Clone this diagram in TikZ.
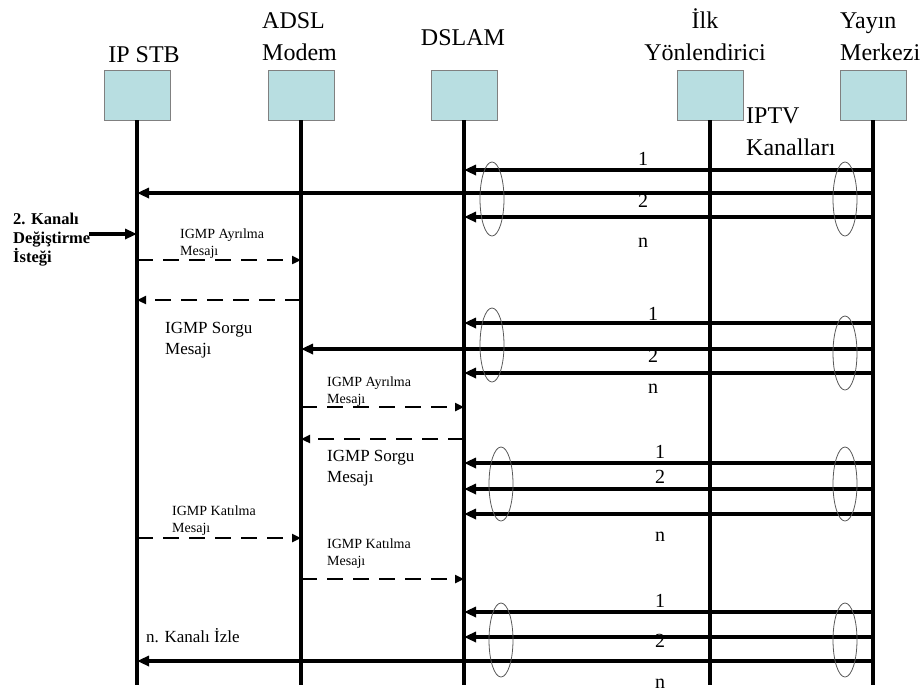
\documentclass[tikz,border=0pt]{standalone}
\usepackage{fontspec}
\setmainfont{Liberation Serif}
\usetikzlibrary{arrows.meta}
\definecolor{boxfill}{RGB}{184,222,225}

\tikzset{
  lifebox/.style={draw=gray, line width=0.8pt, fill=boxfill, minimum width=66pt, minimum height=50pt, inner sep=0pt},
  lifeline/.style={line width=3.2pt},
  chan/.style={line width=3.2pt, -{Triangle[length=12pt,width=10pt]}},
  msg/.style={line width=2.6pt, dash pattern=on 16pt off 10pt, -{Triangle[length=9pt,width=8pt]}},
  bundle/.style={draw=black!65, line width=0.8pt},
  head/.style={font=\fontsize{24}{32}\selectfont, inner sep=0pt},
  chno/.style={font=\fontsize{20}{24}\selectfont, inner sep=0pt, anchor=base},
  tiny/.style={font=\fontsize{14}{16.5}\selectfont, inner sep=0pt, anchor=base west, align=left},
  note/.style={font=\fontsize{17}{21}\selectfont, inner sep=0pt, anchor=base west, align=left},
}

\begin{document}
\begin{tikzpicture}[x=1pt, y=-1pt]
  \useasboundingbox (0,0) rectangle (922,694);

  % devices
  \node[lifebox] (stb) at (137,95) {};
  \node[lifebox] (modem) at (301,95) {};
  \node[lifebox] (dslam) at (464,95) {};
  \node[lifebox] (router) at (710,95) {};
  \node[lifebox] (hq) at (873,95) {};

  % names (base = last line)
  \node[head, anchor=base] (stb-name) at (144,62) {IP STB};
  \node[head, anchor=base west, align=left] (modem-name) at (262,60) {ADSL\\Modem};
  \node[head, anchor=base] (dslam-name) at (463,45) {DSLAM};
  \node[head, anchor=base, align=center] (router-name) at (705,60) {İlk\\Yönlendirici};
  \node[head, anchor=base west, align=left] (hq-name) at (840,60) {Yayın\\Merkezi};
  \node[head, anchor=base west, align=left] (iptv) at (746,155) {IPTV\\Kanalları};

  % lifelines
  \foreach \n in {stb,modem,dslam,router,hq} {
    \coordinate (\n-end) at (\n |- 0,685);
    \draw[lifeline] (\n.south) -- (\n-end);
  }

  % channel change request
  \node[font=\bfseries\fontsize{16.5}{19}\selectfont, inner sep=0pt, anchor=base west, align=left] (req) at (13,262) {2. Kanalı\\Değiştirme\\İsteği};
  \coordinate (req-start) at (89,234);
  \draw[chan] (req-start) -- (stb |- 0,234);

  % group 1
  \draw[chan] (hq |- 0,170) -- (dslam |- 0,170);
  \draw[chan] (hq |- 0,193) -- (stb |- 0,193);
  \draw[chan] (hq |- 0,217) -- (dslam |- 0,217);
  \draw[bundle] (492,199) ellipse [x radius=12pt, y radius=37pt];
  \draw[bundle] (845,199) ellipse [x radius=12pt, y radius=37pt];
  \node[chno] (g1-a) at (643,165) {1};
  \node[chno] (g1-b) at (643,207) {2};
  \node[chno] (g1-n) at (643,247) {n};

  % leave / query, modem side
  \node[tiny] (leave1) at (180,255) {IGMP Ayrılma\\Mesajı};
  \draw[msg] (stb |- 0,260) -- (modem |- 0,260);
  \draw[msg] (modem |- 0,300) -- (stb |- 0,300);
  \node[note] (query1) at (165,354) {IGMP Sorgu\\Mesajı};

  % group 2
  \draw[chan] (hq |- 0,323) -- (dslam |- 0,323);
  \draw[chan] (hq |- 0,349) -- (modem |- 0,349);
  \draw[chan] (hq |- 0,373) -- (dslam |- 0,373);
  \draw[bundle] (492,345) ellipse [x radius=12pt, y radius=37pt];
  \draw[bundle] (845,353) ellipse [x radius=12pt, y radius=37pt];
  \node[chno] (g2-a) at (653,320) {1};
  \node[chno] (g2-b) at (653,362) {2};
  \node[chno] (g2-n) at (653,393) {n};

  % leave / query, dslam side
  \node[tiny] (leave2) at (327,403) {IGMP Ayrılma\\Mesajı};
  \draw[msg] (modem |- 0,407) -- (dslam |- 0,407);
  \draw[msg] (dslam |- 0,439) -- (modem |- 0,439);
  \node[note] (query2) at (327,482) {IGMP Sorgu\\Mesajı};

  % group 3
  \draw[chan] (hq |- 0,463) -- (dslam |- 0,463);
  \draw[chan] (hq |- 0,489) -- (dslam |- 0,489);
  \draw[chan] (hq |- 0,514) -- (dslam |- 0,514);
  \draw[bundle] (501,484) ellipse [x radius=12pt, y radius=37pt];
  \draw[bundle] (845,484) ellipse [x radius=12pt, y radius=37pt];
  \node[chno] (g3-a) at (660,458) {1};
  \node[chno] (g3-b) at (660,483) {2};
  \node[chno] (g3-n) at (660,541) {n};

  % join
  \node[tiny] (join1) at (172,532) {IGMP Katılma\\Mesajı};
  \draw[msg] (stb |- 0,538) -- (modem |- 0,538);
  \node[tiny] (join2) at (327,565) {IGMP Katılma\\Mesajı};
  \draw[msg] (modem |- 0,579) -- (dslam |- 0,579);

  % group 4
  \draw[chan] (hq |- 0,612) -- (dslam |- 0,612);
  \draw[chan] (hq |- 0,637) -- (dslam |- 0,637);
  \draw[chan] (hq |- 0,661) -- (stb |- 0,661);
  \draw[bundle] (501,640) ellipse [x radius=12pt, y radius=37pt];
  \draw[bundle] (845,640) ellipse [x radius=12pt, y radius=37pt];
  \node[chno] (g4-a) at (660,607) {1};
  \node[chno] (g4-b) at (660,647) {2};
  \node[chno] (g4-n) at (660,688) {n};

  \node[note] (watch) at (146,642) {n. Kanalı İzle};
\end{tikzpicture}
\end{document}
